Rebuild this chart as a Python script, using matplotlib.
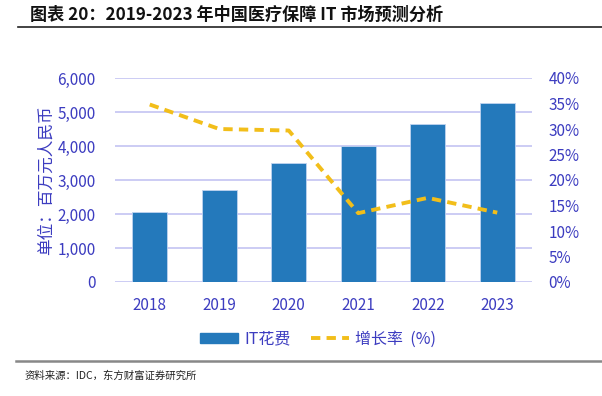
import numpy as np
import matplotlib
matplotlib.use("Agg")
import matplotlib.pyplot as plt
from matplotlib.patches import Patch
from matplotlib.lines import Line2D

plt.rcParams['font.family'] = ['Noto Sans CJK SC', 'DejaVu Sans']

years = ['2018', '2019', '2020', '2021', '2022', '2023']
it_spend = [2060, 2715, 3500, 3990, 4635, 5265]   # 百万元人民币
growth = [34.8, 30.0, 29.7, 13.5, 16.5, 13.6]     # %

BAR = '#2479BB'
LINE = '#F2BE1A'
TXT = '#3C3CC0'
GRID = '#C4C4F2'

fig = plt.figure(figsize=(6.02, 3.96), dpi=100)
W, H = 602, 396
ax = fig.add_axes([115 / W, 1 - 282 / H, (532 - 115) / W, (282 - 78) / H])
ax2 = ax.twinx()

x = np.arange(len(years))
ax.bar(x, it_spend, width=0.51, color=BAR, edgecolor='#BFD3F0', linewidth=0.6, zorder=3)
ax2.plot(x, growth, color=LINE, lw=2.8, dashes=(2.4, 1.6), zorder=4)

ax.set_xlim(-0.5, 5.5)
ax.set_ylim(0, 6000)
ax.set_yticks(range(0, 6001, 1000))
ax.set_yticklabels(['{:,}'.format(v) for v in range(0, 6001, 1000)])
ax2.set_ylim(0, 40)
ax2.set_yticks(range(0, 41, 5))
ax2.set_yticklabels(['%d%%' % v for v in range(0, 41, 5)])
ax.set_xticks(x)
ax.set_xticklabels(years)

ax.grid(axis='y', color=GRID, lw=1.2, zorder=0)
ax.set_axisbelow(True)
for a in (ax, ax2):
    for s in a.spines.values():
        s.set_visible(False)
    a.tick_params(length=0, labelsize=11, labelcolor=TXT)
ax.tick_params(axis='y', pad=14)
ax.tick_params(axis='x', pad=11)
ax2.tick_params(axis='y', pad=12)
ax2.set_zorder(ax.get_zorder() + 1)
ax2.patch.set_visible(False)

ax.set_ylabel('单位：百万元人民币', fontsize=12, color=TXT, labelpad=2)

# 图例
handles = [Patch(facecolor=BAR, edgecolor=BAR),
           Line2D([0], [0], color=LINE, lw=2.8, dashes=(2.4, 1.6))]
fig.legend(handles, ['IT花费', '增长率  (%)'], loc='center', bbox_to_anchor=(318 / W, 1 - 339 / H),
           ncol=2, frameon=False, fontsize=11.5, labelcolor=TXT, handlelength=2.4,
           handleheight=0.6, handletextpad=0.35, columnspacing=1.3)

# 标题与来源
fig.text(30 / W, 1 - 15 / H, '图表 20：2019-2023 年中国医疗保障 IT 市场预测分析',
         fontsize=12.3, fontweight='bold', va='center', ha='left', color='#111111')
fig.add_artist(Line2D([18 / W, 1], [1 - 27 / H] * 2, color='#222222', lw=1.2))
fig.add_artist(Line2D([16 / W, 1], [1 - 361 / H] * 2, color='#888888', lw=1.8))
fig.text(25 / W, 1 - 376 / H, '资料来源：IDC，东方财富证券研究所', fontsize=7.5,
         va='center', ha='left', color='#222222')

fig.savefig('out.png', dpi=100)
